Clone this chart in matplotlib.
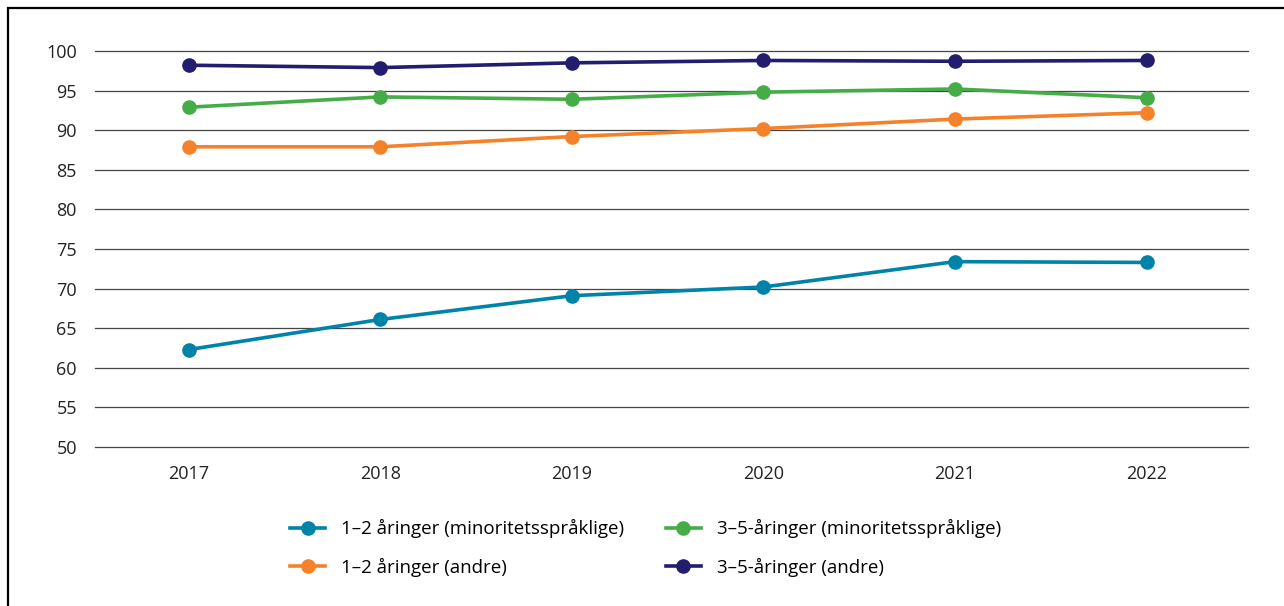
import matplotlib.pyplot as plt
from matplotlib.patches import Rectangle

plt.rcParams['font.family'] = ['Open Sans', 'DejaVu Sans']

years = [2017, 2018, 2019, 2020, 2021, 2022]
min_1_2 = [62.3, 66.1, 69.1, 70.2, 73.4, 73.3]
min_3_5 = [92.9, 94.2, 93.9, 94.8, 95.2, 94.1]
andre_1_2 = [87.9, 87.9, 89.2, 90.2, 91.4, 92.2]
andre_3_5 = [98.2, 97.9, 98.5, 98.8, 98.7, 98.8]

labels = ['1–2 åringer (minoritetsspråklige)', '1–2 åringer (andre)',
          '3–5-åringer (minoritetsspråklige)', '3–5-åringer (andre)']
colors = ['#0083A9', '#F5822A', '#45AD47', '#221D6E']
series = [min_1_2, andre_1_2, min_3_5, andre_3_5]

fig = plt.figure(figsize=(12.84, 6.06), dpi=100)
ax = fig.add_axes([0.074, 0.2624, 0.898, 0.6535])

for vals, lab, c in zip(series, labels, colors):
    ax.plot(years, vals, color=c, lw=2.6, marker='o', markersize=9.5, label=lab)

ax.set_ylim(50, 100)
ax.set_yticks(range(50, 101, 5))
ax.set_xlim(2016.51, 2022.53)
ax.set_xticks(years)
ax.grid(axis='y', color='#444444', lw=0.9)
for gl in ax.get_ygridlines():
    gl.set_clip_on(False)
ax.set_axisbelow(True)
for s in ax.spines.values():
    s.set_visible(False)
ax.tick_params(length=0, labelsize=13, colors='#222222')
ax.tick_params(axis='y', pad=13)
ax.tick_params(axis='x', pad=13)

ax.legend(loc='upper center', bbox_to_anchor=(0.4775, -0.14), ncol=2, frameon=False,
          fontsize=13.5, handlelength=1.9, handletextpad=0.85, columnspacing=2.2,
          labelspacing=1.05)

fig.patches.append(Rectangle((8 / 1284, -0.1), 1.2, 1 - 8 / 606 + 0.1, transform=fig.transFigure,
                             fill=False, edgecolor='black', lw=1.6))

fig.savefig('out.png', dpi=100)
